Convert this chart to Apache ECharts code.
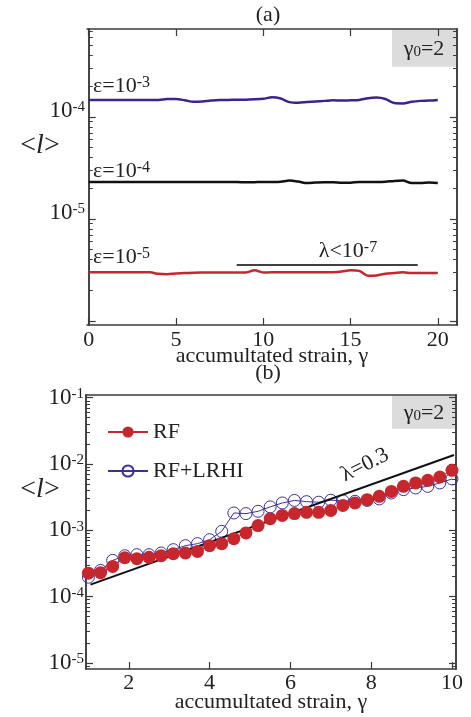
<!DOCTYPE html>
<html><head><meta charset="utf-8">
<script src="https://cdn.jsdelivr.net/npm/echarts@6/dist/echarts.min.js"></script>
<style>html,body{margin:0;padding:0;background:#fff}#c{width:471px;height:717px}</style>
</head><body><div id="c"></div>
<script>
// ---------- data (panel a) ----------
const topGamma = [0,0.5,1,1.5,2,2.5,3,3.5,4,4.5,5,5.5,6,6.5,7,7.5,8,8.5,9,9.5,10,10.5,11,11.5,12,12.5,13,13.5,14,14.5,15,15.5,16,16.5,17,17.5,18,18.5,19,19.5,20];
const eps3 = [1.47e-4,1.47e-4,1.47e-4,1.47e-4,1.47e-4,1.47e-4,1.47e-4,1.47e-4,1.47e-4,1.50e-4,1.50e-4,1.46e-4,1.41e-4,1.42e-4,1.45e-4,1.47e-4,1.47e-4,1.48e-4,1.48e-4,1.49e-4,1.51e-4,1.56e-4,1.52e-4,1.40e-4,1.38e-4,1.40e-4,1.42e-4,1.44e-4,1.46e-4,1.45e-4,1.46e-4,1.47e-4,1.53e-4,1.55e-4,1.50e-4,1.37e-4,1.36e-4,1.41e-4,1.44e-4,1.45e-4,1.47e-4];
const eps4 = [2.31e-5,2.31e-5,2.31e-5,2.31e-5,2.31e-5,2.31e-5,2.31e-5,2.31e-5,2.31e-5,2.31e-5,2.31e-5,2.31e-5,2.31e-5,2.31e-5,2.31e-5,2.31e-5,2.31e-5,2.31e-5,2.29e-5,2.30e-5,2.31e-5,2.31e-5,2.32e-5,2.38e-5,2.33e-5,2.25e-5,2.28e-5,2.30e-5,2.30e-5,2.27e-5,2.27e-5,2.31e-5,2.31e-5,2.31e-5,2.32e-5,2.36e-5,2.38e-5,2.25e-5,2.25e-5,2.28e-5,2.26e-5];
const eps5 = [3.00e-6,3.00e-6,3.00e-6,3.00e-6,3.00e-6,3.00e-6,3.00e-6,3.00e-6,2.90e-6,2.88e-6,2.93e-6,2.95e-6,2.98e-6,2.99e-6,2.99e-6,2.99e-6,2.99e-6,2.99e-6,2.99e-6,3.14e-6,2.99e-6,3.00e-6,3.00e-6,3.00e-6,3.00e-6,3.00e-6,3.00e-6,3.00e-6,3.01e-6,3.06e-6,3.14e-6,3.10e-6,2.78e-6,2.80e-6,2.90e-6,2.95e-6,3.00e-6,2.95e-6,2.95e-6,2.95e-6,2.95e-6];
const lamGamma = [8.48, 18.85];
const lamVal = [3.54e-6, 3.54e-6];
const topXTicks = [0,5,10,15,20];
const topYLabels = [-5,-4];
const topYMajor = [-6,-5,-4];

// ---------- data (panel b) ----------
const botGamma = [1.0,1.3,1.6,1.9,2.2,2.5,2.8,3.1,3.4,3.7,4.0,4.3,4.6,4.9,5.2,5.5,5.8,6.1,6.4,6.7,7.0,7.3,7.6,7.9,8.2,8.5,8.8,9.1,9.4,9.7,10.0];
const rf = [2.26e-4,2.30e-4,2.86e-4,3.88e-4,3.74e-4,3.92e-4,4.15e-4,4.45e-4,4.56e-4,4.82e-4,5.88e-4,6.31e-4,7.50e-4,9.14e-4,1.18e-3,1.50e-3,1.68e-3,1.79e-3,1.87e-3,1.87e-3,2.00e-3,2.38e-3,2.59e-3,2.90e-3,3.26e-3,3.87e-3,4.61e-3,5.19e-3,5.68e-3,6.38e-3,8.03e-3];
const rfLrhi = [1.97e-4,2.49e-4,3.53e-4,4.15e-4,4.30e-4,4.30e-4,4.56e-4,5.12e-4,5.88e-4,6.31e-4,7.24e-4,9.66e-4,1.83e-3,1.79e-3,1.94e-3,2.26e-3,2.59e-3,2.83e-3,2.71e-3,2.66e-3,2.85e-3,2.80e-3,2.74e-3,2.83e-3,2.98e-3,3.66e-3,4.11e-3,4.36e-3,4.61e-3,5.19e-3,5.96e-3];
const fitGamma = [1.05, 10.05];
const fitVal = [1.52e-4, 1.37e-2];
const botXTicks = [2,4,6,8,10];
const botYLabels = [-5,-4,-3,-2,-1];
const botYMajor = [-5,-4,-3,-2,-1];

// ---------- helpers ----------
const FONT = 'Liberation Serif';
const AX = '#3a3a3a';
const RED = '#c8262d';
const PURPLE = '#3d2290';
const BLUE = '#3b2fa0';
function pairs(xs, ys){ return xs.map((x,i)=>[x, Math.log10(ys[i])]); }
function minorTicks(lo, hi){ const o=[]; for(let n=lo;n<hi;n++){ for(let k=2;k<=9;k++){ o.push(n+Math.log10(k)); } } return o; }
const supRich = {
  b:{fontFamily:FONT,fontSize:23,color:'#222',lineHeight:22},
  s:{fontFamily:FONT,fontSize:15,color:'#222',verticalAlign:'top',lineHeight:10}
};
function yAxes(grid, min, max, labels, majors, shiftUp){
  const minors = minorTicks(Math.floor(min), Math.ceil(max));
  const base = {type:'value', gridIndex:grid, min:min, max:max, splitLine:{show:false},
    axisLine:{show:true,lineStyle:{color:AX,width:1.5}}};
  return [
    Object.assign({}, base, {position:'left',
      axisTick:{inside:true,length:7,customValues:majors,lineStyle:{color:AX,width:1.2}},
      axisLabel:{customValues:labels,margin:2,formatter:v=>'{b|10}{s|'+Math.round(v)+'}',rich:supRich,
        padding: shiftUp ? [0,0,12,0] : 0}}),
    Object.assign({}, base, {position:'left',
      axisTick:{inside:true,length:4,customValues:minors,lineStyle:{color:AX,width:1}},axisLabel:{show:false}}),
    Object.assign({}, base, {position:'right',
      axisTick:{inside:true,length:7,customValues:majors,lineStyle:{color:AX,width:1.2}},axisLabel:{show:false}}),
    Object.assign({}, base, {position:'right',
      axisTick:{inside:true,length:4,customValues:minors,lineStyle:{color:AX,width:1}},axisLabel:{show:false}})
  ];
}
const nameStyle = {fontFamily:FONT,fontSize:22,color:'#222'};
const tickLabelStyle = {fontFamily:FONT,fontSize:22,color:'#222'};
const annRich = {a:{fontFamily:FONT,fontSize:22,fill:'#222',lineHeight:22},s:{fontFamily:FONT,fontSize:16,fill:'#222',verticalAlign:'top',lineHeight:10}};
const subRich = {a:{fontFamily:FONT,fontSize:22,fill:'#222',lineHeight:22},s:{fontFamily:FONT,fontSize:15,fill:'#222',verticalAlign:'bottom',lineHeight:12}};

const option = {
  animation:false,
  grid:[
    {left:87, top:29, width:370, height:296, containLabel:false, outerBoundsMode:'none'},
    {left:86, top:395, width:370, height:274, containLabel:false, outerBoundsMode:'none'}
  ],
  xAxis:[
    {type:'value', gridIndex:0, position:'bottom', min:-0.1, max:21.1, splitLine:{show:false},
      axisLine:{show:true,lineStyle:{color:AX,width:1.5}},
      axisTick:{inside:true,length:7,customValues:topXTicks,lineStyle:{color:AX,width:1.2}},
      axisLabel:Object.assign({customValues:topXTicks,margin:4}, tickLabelStyle),
      name:'accumultated strain, γ', nameLocation:'middle', nameGap:20, nameMoveOverlap:false, nameTextStyle:nameStyle},
    {type:'value', gridIndex:0, position:'top', min:-0.1, max:21.1, splitLine:{show:false},
      axisLine:{show:true,lineStyle:{color:AX,width:1.5}},
      axisTick:{inside:true,length:7,customValues:topXTicks,lineStyle:{color:AX,width:1.2}},
      axisLabel:{show:false}},
    {type:'value', gridIndex:1, position:'bottom', min:0.94, max:10.1, splitLine:{show:false},
      axisLine:{show:true,lineStyle:{color:AX,width:1.5}},
      axisTick:{inside:true,length:7,customValues:botXTicks,lineStyle:{color:AX,width:1.2}},
      axisLabel:Object.assign({customValues:botXTicks,margin:3}, tickLabelStyle),
      name:'accumultated strain, γ', nameLocation:'middle', nameGap:22, nameMoveOverlap:false, nameTextStyle:nameStyle},
    {type:'value', gridIndex:1, position:'top', min:0.94, max:10.1, splitLine:{show:false},
      axisLine:{show:true,lineStyle:{color:AX,width:1.5}},
      axisTick:{show:false}, axisLabel:{show:false}}
  ],
  yAxis: [].concat(
    yAxes(0, -6.039, -3.137, topYLabels, topYMajor, true),
    yAxes(1, -5.09, -0.959, botYLabels, botYMajor, false)
  ),
  legend:{
    left:102, top:416, orient:'vertical', itemWidth:40, itemHeight:14, itemGap:17,
    textStyle:{fontFamily:FONT,fontSize:22,color:'#222'},
    data:['RF','RF+LRHI']
  },
  series:[
    {type:'line', name:'eps3', xAxisIndex:0, yAxisIndex:0, data:pairs(topGamma,eps3), showSymbol:false, smooth:0.3,
      lineStyle:{color:PURPLE,width:2.5}, itemStyle:{color:PURPLE}},
    {type:'line', name:'eps4', xAxisIndex:0, yAxisIndex:0, data:pairs(topGamma,eps4), showSymbol:false, smooth:0.3,
      lineStyle:{color:'#111',width:2.5}, itemStyle:{color:'#111'}},
    {type:'line', name:'eps5', xAxisIndex:0, yAxisIndex:0, data:pairs(topGamma,eps5), showSymbol:false, smooth:0.3,
      lineStyle:{color:RED,width:2.5}, itemStyle:{color:RED}},
    {type:'line', name:'lam', xAxisIndex:0, yAxisIndex:0, data:pairs(lamGamma,lamVal), showSymbol:false,
      lineStyle:{color:'#000',width:1.3}},
    {type:'line', name:'fit', xAxisIndex:2, yAxisIndex:4, data:pairs(fitGamma,fitVal), showSymbol:false,
      lineStyle:{color:'#111',width:2}, z:3},
    {type:'line', name:'RF+LRHI', xAxisIndex:2, yAxisIndex:4, data:pairs(botGamma,rfLrhi),
      symbol:'circle', symbolSize:12, lineStyle:{color:BLUE,width:1},
      itemStyle:{color:'rgba(255,255,255,0)',borderColor:BLUE,borderWidth:1}, z:2},
    {type:'line', name:'RF', xAxisIndex:2, yAxisIndex:4, data:pairs(botGamma,rf),
      symbol:'circle', symbolSize:13, lineStyle:{color:RED,width:1},
      itemStyle:{color:RED}, z:4}
  ],
  graphic:[
    {type:'text', style:{text:'(a)', x:268, y:15, font:'22px '+FONT, fill:'#222', align:'center', verticalAlign:'middle'}},
    {type:'text', style:{text:'(b)', x:268, y:373, font:'22px '+FONT, fill:'#222', align:'center', verticalAlign:'middle'}},
    {type:'rect', shape:{x:392, y:29.8, width:64.2, height:37}, style:{fill:'#dcdcdc'}, z:-1},
    {type:'text', style:{text:'{a|γ}{s|0}{a|=2}', x:424, y:49, align:'center', verticalAlign:'middle', rich:subRich}},
    {type:'rect', shape:{x:392, y:395.8, width:63.2, height:33}, style:{fill:'#dcdcdc'}, z:-1},
    {type:'text', style:{text:'{a|γ}{s|0}{a|=2}', x:424, y:413, align:'center', verticalAlign:'middle', rich:subRich}},
    {type:'text', style:{text:'{a|ε=10}{s|-3}', x:93, y:86, align:'left', verticalAlign:'middle', rich:annRich}},
    {type:'text', style:{text:'{a|ε=10}{s|-4}', x:93, y:171, align:'left', verticalAlign:'middle', rich:annRich}},
    {type:'text', style:{text:'{a|ε=10}{s|-5}', x:93, y:257, align:'left', verticalAlign:'middle', rich:annRich}},
    {type:'text', style:{text:'{a|λ<10}{s|-7}', x:348, y:251, align:'center', verticalAlign:'middle', rich:annRich}},
    {type:'text', rotation:0.47, x:365, y:465, style:{text:'λ=0.3', x:0, y:0, align:'center', verticalAlign:'middle',
      font:'22px '+FONT, fill:'#222'}},
    {type:'text', style:{text:'{a|<}{i|l}{a|>}', x:40, y:146, align:'center', verticalAlign:'middle',
      rich:{a:{fontFamily:FONT,fontSize:28,fill:'#222'},i:{fontFamily:FONT,fontSize:28,fontStyle:'italic',fill:'#222'}}}},
    {type:'text', style:{text:'{a|<}{i|l}{a|>}', x:40, y:490, align:'center', verticalAlign:'middle',
      rich:{a:{fontFamily:FONT,fontSize:28,fill:'#222'},i:{fontFamily:FONT,fontSize:28,fontStyle:'italic',fill:'#222'}}}}
  ]
};
const chart = echarts.init(document.getElementById('c'), null, {renderer:'canvas'});
chart.setOption(option);
</script>
</body></html>
